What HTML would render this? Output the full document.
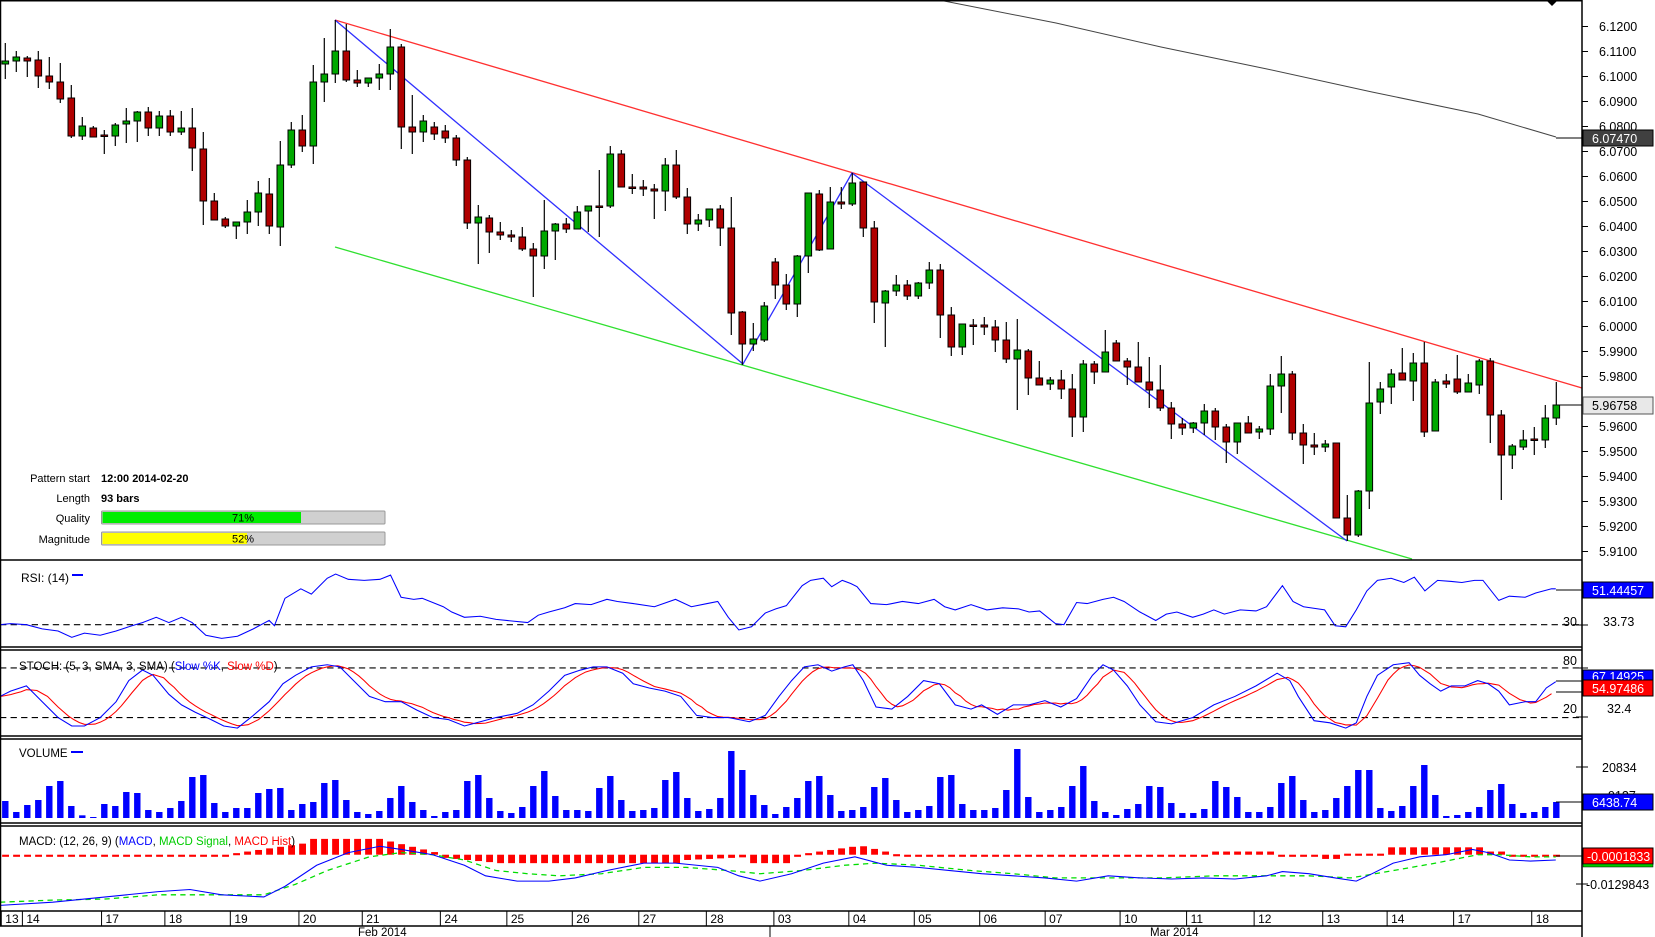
<!DOCTYPE html>
<html><head><meta charset="utf-8"><style>
html,body{margin:0;padding:0;background:#fff;width:1655px;height:937px;overflow:hidden}
svg{display:block;font-family:"Liberation Sans",Arial,sans-serif}
</style></head><body>
<svg id="s" width="1655" height="937" viewBox="0 0 1655 937" xmlns="http://www.w3.org/2000/svg">
<rect x="0" y="0" width="1655" height="937" fill="#fff"/>
<g id="main"></g>
<g id="scaled" transform="scale(1.05548,1.0552)"></g>
<!-- frame -->
<g stroke="#000" stroke-width="1.5" fill="none">
<line x1="0.5" y1="0" x2="0.5" y2="926"/>
<line x1="0" y1="0.75" x2="1582" y2="0.75"/>
<line x1="0" y1="560" x2="1582" y2="560"/>
<line x1="0" y1="647" x2="1582" y2="647"/>
<line x1="0" y1="650" x2="1582" y2="650"/>
<line x1="0" y1="736" x2="1582" y2="736"/>
<line x1="0" y1="739" x2="1582" y2="739"/>
<line x1="0" y1="823" x2="1582" y2="823"/>
<line x1="0" y1="826" x2="1582" y2="826"/>
<line x1="0" y1="911" x2="1582" y2="911"/>
<line x1="0" y1="926" x2="1582" y2="926"/>
<line x1="1582" y1="0" x2="1582" y2="937"/>
</g>
<polygon points="1546,0 1558,0 1552,6" fill="#000"/>
<g id="ticks" stroke="#000" stroke-width="1"></g>
<g font-size="12.5" fill="#000">
<text x="1599" y="31">6.1200</text><text x="1599" y="56">6.1100</text><text x="1599" y="81">6.1000</text>
<text x="1599" y="106">6.0900</text><text x="1599" y="131">6.0800</text><text x="1599" y="156">6.0700</text>
<text x="1599" y="181">6.0600</text><text x="1599" y="206">6.0500</text><text x="1599" y="231">6.0400</text>
<text x="1599" y="256">6.0300</text><text x="1599" y="281">6.0200</text><text x="1599" y="306">6.0100</text>
<text x="1599" y="331">6.0000</text><text x="1599" y="356">5.9900</text><text x="1599" y="381">5.9800</text>
<text x="1599" y="406">5.9700</text><text x="1599" y="431">5.9600</text><text x="1599" y="456">5.9500</text>
<text x="1599" y="481">5.9400</text><text x="1599" y="506">5.9300</text><text x="1599" y="531">5.9200</text>
<text x="1599" y="556">5.9100</text>
</g>
<line x1="1556" y1="138" x2="1582" y2="138" stroke="#000"/>
<rect x="1583" y="130" width="70" height="16" fill="#404040" stroke="#000"/>
<text x="1592" y="143" font-size="12.5" fill="#fff">6.07470</text>
<line x1="1556" y1="405" x2="1582" y2="405" stroke="#000"/>
<rect x="1583" y="397" width="70" height="17" fill="#e8e8e8" stroke="#555"/>
<text x="1592" y="410" font-size="12.5" fill="#000">5.96758</text>
<!-- pattern info -->
<g font-size="11" fill="#000">
<text x="90" y="482" text-anchor="end">Pattern start</text>
<text x="101" y="482" font-weight="bold">12:00 2014-02-20</text>
<text x="90" y="502" text-anchor="end">Length</text>
<text x="101" y="502" font-weight="bold">93 bars</text>
<text x="90" y="522" text-anchor="end">Quality</text>
<text x="90" y="543" text-anchor="end">Magnitude</text>
</g>
<rect x="101.5" y="511" width="283.5" height="13" fill="#d0d0d0" stroke="#999" rx="1"/>
<rect x="102.5" y="512" width="198.5" height="11" fill="#00ee00"/>
<text x="243" y="521.5" font-size="11" text-anchor="middle">71%</text>
<rect x="101.5" y="532" width="283.5" height="13" fill="#d0d0d0" stroke="#999" rx="1"/>
<rect x="102.5" y="533" width="144.5" height="11" fill="#ffff00"/>
<text x="243" y="542.5" font-size="11" text-anchor="middle">52%</text>
<!-- RSI labels -->
<text x="21" y="582" font-size="12">RSI: (14)</text>
<line x1="72" y1="575" x2="83" y2="575" stroke="#00f" stroke-width="2"/>
<text x="1563" y="626" font-size="12.5">30</text>
<text x="1603" y="626" font-size="12.5">33.73</text>
<line x1="1556" y1="590" x2="1582" y2="590" stroke="#000"/>
<rect x="1583" y="582" width="70" height="16" fill="#0000ff" stroke="#000"/>
<text x="1592" y="595" font-size="12.5" fill="#fff">51.44457</text>
<!-- stoch labels -->
<text x="19" y="670" font-size="11.5">STOCH: (5, 3, SMA, 3, SMA) (<tspan fill="#00f">Slow %K</tspan>, <tspan fill="#f00">Slow %D</tspan>)</text>
<text x="1563" y="665" font-size="12.5">80</text>
<text x="1563" y="713" font-size="12.5">20</text>
<text x="1607" y="713" font-size="12.5">32.4</text>
<line x1="1556" y1="681" x2="1582" y2="681" stroke="#000"/>
<line x1="1556" y1="692" x2="1582" y2="692" stroke="#000"/>
<rect x="1583" y="670" width="70" height="12" fill="#0000ff" stroke="#000"/>
<text x="1592" y="681" font-size="12.5" fill="#fff">67.14925</text>
<rect x="1583" y="680" width="70" height="16" fill="#ff0000" stroke="#000"/>
<text x="1592" y="693" font-size="12.5" fill="#fff">54.97486</text>
<!-- volume labels -->
<text x="19" y="757" font-size="11.5">VOLUME</text>
<line x1="71" y1="752" x2="83" y2="752" stroke="#00f" stroke-width="2"/>
<text x="1602" y="772" font-size="12.5">20834</text>
<text x="1608" y="800" font-size="12.5">9127</text>
<line x1="1556" y1="802" x2="1582" y2="802" stroke="#000"/>
<rect x="1583" y="794" width="70" height="16" fill="#0000ff" stroke="#000"/>
<text x="1592" y="807" font-size="12.5" fill="#fff">6438.74</text>
<!-- macd labels -->
<text x="19" y="845" font-size="11.5">MACD: (12, 26, 9) (<tspan fill="#00f">MACD</tspan>, <tspan fill="#0c0">MACD Signal</tspan>, <tspan fill="#f00">MACD Hist</tspan>)</text>
<line x1="1556" y1="856" x2="1582" y2="856" stroke="#000"/>
<rect x="1583" y="848" width="70" height="16" fill="#ff0000" stroke="#000"/>
<rect x="1583" y="864" width="70" height="3" fill="#00cc00" stroke="#000" stroke-width="0.5"/>
<text x="1587" y="861" font-size="12.5" fill="#fff">-0.0001833</text>
<line x1="1582" y1="884" x2="1588" y2="884" stroke="#000"/>
<text x="1586" y="889" font-size="12.5">-0.0129843</text>
<!-- dates -->
<g id="dates" font-size="12" fill="#000"></g>
<text x="358" y="936" font-size="11.5">Feb 2014</text>
<text x="1150" y="936" font-size="11.5">Mar 2014</text>
<line x1="770" y1="926" x2="770" y2="937" stroke="#000"/>
</svg>
<script>
var NS="http://www.w3.org/2000/svg";
function el(p,n,a){var e=document.createElementNS(NS,n);for(var k in a)e.setAttribute(k,a[k]);p.appendChild(e);return e;}
var main=document.getElementById('main'),sc=document.getElementById('scaled');
// price ticks
var tk=document.getElementById('ticks');
for(var i=0;i<22;i++){var y=26.5+25*i;el(tk,'line',{x1:1582,y1:y,x2:1588,y2:y});}
[[625],[668],[717],[767],[884]].forEach(function(a){el(tk,'line',{x1:1576,y1:a[0],x2:1588,y2:a[0]});});
// MA gray
el(main,'polyline',{points:"939,0 1056,23 1161,47 1267,69 1372,92 1478,114 1556,137",fill:"none",stroke:"#444","stroke-width":1});
// candles [top,bottom,wt,wb,green]
var C=[[61,64,43,79,1],[57,61,51,72,1],[58,61,56,77,0],[60,76,51,88,0],[76,82,57,89,0],[82,99,63,103,0],[98,136,85,138,0],[126,136,117,140,1],[128,137,126,137,0],[135,136,130,154,0],
[125,136,123,146,1],[121,124,108,143,1],[112,121,111,142,1],[112,128,107,136,0],[116,128,111,136,1],[116,132,110,136,0],[128,132,111,135,1],[128,148,108,171,0],[149,201,132,225,0],[201,220,193,220,0],
[219,226,217,228,0],[222,226,222,239,1],[212,222,200,234,1],[193,212,181,226,1],[194,226,178,234,0],[165,227,141,246,1],[130,165,122,168,1],[130,146,115,152,0],[82,146,65,164,1],[74,82,38,102,1],
[51,74,20,83,1],[51,80,24,82,0],[80,83,70,87,0],[78,83,78,87,1],[74,78,64,90,1],[47,74,29,90,1],[47,127,44,149,0],[127,132,95,154,0],[121,132,115,142,1],[127,134,122,140,0],
[131,138,125,143,0],[138,160,135,166,0],[160,223,157,229,0],[217,223,205,264,1],[218,232,215,253,0],[232,235,222,240,0],[235,237,230,242,0],[237,249,227,251,0],[249,256,243,297,0],[231,256,200,269,1],
[224,231,223,260,1],[224,229,218,233,0],[212,229,206,229,1],[206,211,206,232,1],[206,207,170,237,0],[154,206,146,208,1],[154,187,150,187,0],[187,188,174,194,0],[187,189,180,196,0],[189,191,184,219,0],
[165,191,158,211,1],[165,197,150,199,0],[197,224,188,234,0],[220,224,214,231,1],[209,220,209,227,1],[209,228,205,246,0],[228,313,197,335,0],[312,344,311,365,0],[339,344,323,351,1],[306,340,302,342,1],
[262,285,258,299,0],[285,304,274,310,0],[256,304,255,317,1],[193,256,193,273,1],[194,250,190,251,0],[202,249,187,249,1],[202,204,187,209,0],[183,204,173,206,1],[182,228,182,237,0],[228,302,221,323,0],
[291,303,290,347,1],[285,291,275,296,1],[285,296,280,300,0],[283,296,282,299,1],[270,283,262,289,1],[270,315,264,338,0],[315,347,307,356,0],[324,347,324,355,1],[325,326,319,345,0],[325,327,317,335,0],
[327,340,320,352,0],[340,359,322,363,0],[350,359,319,410,1],[351,378,349,395,0],[378,385,361,385,0],[380,384,377,390,1],[380,389,370,399,0],[389,417,374,437,0],[364,417,360,432,1],[364,372,361,384,0],
[352,372,330,372,1],[343,361,340,361,0],[361,367,358,385,0],[367,382,342,382,0],[382,390,357,408,0],[390,408,365,411,0],[408,424,402,439,0],[424,428,418,435,0],[423,428,422,433,1],[411,423,404,435,1],
[411,427,408,440,0],[427,442,424,463,0],[423,442,423,454,1],[423,433,416,433,0],[429,432,426,439,1],[386,429,374,435,1],[374,386,356,413,1],[374,433,371,440,0],[433,445,424,464,0],[445,447,433,455,0],
[444,447,440,452,1],[443,518,443,518,0],[518,535,495,541,0],[491,535,490,537,1],[403,491,362,509,1],[389,402,382,414,1],[374,387,369,404,1],[373,380,348,380,0],[363,381,353,401,1],[363,432,342,437,0],
[382,431,379,431,1],[381,384,374,388,0],[379,392,355,394,0],[383,392,374,392,1],[361,385,359,394,1],[361,415,358,443,0],[415,455,410,500,0],[446,455,444,469,1],[440,447,430,450,1],[439,440,427,455,0],
[418,440,405,448,1],[405,418,382,425,1]];
function cx(i){return 5.3+11*i;}
// channel lines
el(main,'line',{x1:335,y1:20,x2:1582,y2:388,stroke:"#ff3030","stroke-width":1.3});
el(main,'line',{x1:335,y1:247,x2:1412,y2:559,stroke:"#30e030","stroke-width":1.3});
el(main,'polyline',{points:"335,20 743,364 852,173 1347,541",fill:"none",stroke:"#3030ff","stroke-width":1.3});
C.forEach(function(c,i){var x=cx(i);
 el(main,'line',{x1:x,y1:c[2],x2:x,y2:c[3],stroke:"#000","stroke-width":1.2});
 var h=Math.max(c[1]-c[0],1.5);
 el(main,'rect',{x:x-3.3,y:c[0],width:6.6,height:h,fill:c[4]?"#00a800":"#b00000",stroke:"#000","stroke-width":1});
});
// volume
var V1=[183,216,195,180,138,123,198,226,231,192,198,156,159,210,216,204,183,111,105,189,216,204,204,159,147,144,210,192,186,129,120,180,216,222,213,174,138,186,210,228,216,210,123,105,174,213,219,201,138,93,168,210,210,213,144,108,180,213,210,204,120,96,174,213,207,174,33,90,165,195,222,201];
var V2=[174,123,108,165,213,210,201,141,114,180,216,210,198,111,105,192,210,210,204,150,27,171,216,210,201,138,78,183,216,225,207,192,138,141,189,219,219,207,123,141,171,216,216,201,129,108,180,216,210,174,138,90,90,204,213,198,138,75,165,228,225,216,201,150,132,192,219,216,201,186];
var V=V1.concat(V2);
V.forEach(function(t,i){var h=(234-t)/3;el(main,'rect',{x:cx(i)-3.2,y:818-h,width:6.4,height:h,fill:"#0000ff"});});
// dashed levels (displayed coords)
function P(a){return a.map(function(p){return p[0]+","+p[1];}).join(" ");}
[[592],[633],[680]].forEach(function(a){el(sc,'line',{x1:0,y1:a[0],x2:1499,y2:a[0],stroke:"#000","stroke-dasharray":"6,4","stroke-width":1});});
var rsi=[[0,592],[10,591],[25,592],[40,596],[55,598],[68,604],[80,600],[95,602],[110,598],[125,593],[135,590],[148,585],[160,590],[172,585],[182,590],[195,602],[210,605],[225,603],[240,596],[255,588],[260,593],[270,567],[285,558],[295,563],[310,548],[318,544],[330,549],[345,550],[360,549],[370,545],[380,566],[392,568],[400,567],[420,575],[428,580],[440,585],[455,584],[470,587],[500,590],[510,583],[520,580],[535,576],[545,572],[560,573],[575,568],[585,570],[600,572],[620,575],[640,568],[655,575],[670,572],[680,570],[690,585],[700,597],[712,594],[725,581],[735,577],[745,574],[760,555],[768,550],[780,548],[788,556],[798,550],[806,553],[812,556],[825,572],[840,573],[855,570],[870,572],[885,568],[895,575],[905,578],[920,573],[935,578],[950,576],[965,577],[975,580],[985,579],[1000,591],[1008,592],[1020,571],[1030,572],[1045,568],[1055,566],[1065,570],[1080,580],[1095,588],[1105,582],[1115,580],[1130,585],[1140,582],[1150,578],[1160,582],[1175,578],[1190,579],[1200,575],[1215,555],[1225,570],[1235,575],[1255,578],[1265,593],[1275,594],[1285,578],[1295,560],[1305,550],[1318,548],[1330,552],[1340,547],[1350,560],[1362,550],[1375,551],[1385,552],[1397,550],[1405,550],[1420,569],[1430,565],[1445,566],[1455,562],[1470,558],[1474,558]];
el(sc,'polyline',{points:P(rsi),fill:"none",stroke:"#0000ff","stroke-width":1});
var sk=[[0,660],[10,655],[25,650],[40,665],[55,680],[68,688],[80,688],[95,680],[110,665],[122,645],[135,635],[145,640],[160,658],[172,668],[185,675],[200,682],[212,688],[225,690],[240,678],[255,665],[268,648],[280,640],[295,632],[310,630],[322,632],[335,645],[350,660],[365,665],[380,665],[395,673],[410,680],[425,682],[440,688],[455,684],[470,680],[490,676],[505,668],[520,655],[535,640],[550,635],[562,632],[575,632],[590,638],[600,648],[615,652],[630,655],[645,660],[660,678],[675,680],[690,680],[710,684],[725,678],[738,660],[750,645],[762,632],[775,630],[788,636],[800,632],[808,630],[818,645],[830,670],[845,672],[860,660],[875,645],[890,648],[905,668],[920,672],[930,668],[945,677],[960,668],[975,668],[990,664],[1005,670],[1020,662],[1035,640],[1045,630],[1055,635],[1068,650],[1080,668],[1095,684],[1110,686],[1130,680],[1150,668],[1170,660],[1190,650],[1210,638],[1222,645],[1230,660],[1245,683],[1260,685],[1275,690],[1285,685],[1295,660],[1305,640],[1320,630],[1335,628],[1345,640],[1355,648],[1365,655],[1375,650],[1388,650],[1400,645],[1410,648],[1420,655],[1430,668],[1445,665],[1455,665],[1465,652],[1474,646]];
function interp(a,x){if(x<=a[0][0])return a[0][1];for(var i=1;i<a.length;i++){if(x<=a[i][0]){var t=(x-a[i-1][0])/(a[i][0]-a[i-1][0]);return a[i-1][1]+t*(a[i][1]-a[i-1][1]);}}return a[a.length-1][1];}
var sd=[];for(var x=0;x<=1474;x+=5){sd.push([x,((interp(sk,x)+interp(sk,x-10)+interp(sk,x-20))/3).toFixed(1)]);}
el(sc,'polyline',{points:P(sd),fill:"none",stroke:"#ff0000","stroke-width":1});
el(sc,'polyline',{points:P(sk),fill:"none",stroke:"#0000ff","stroke-width":1});
// MACD hist
var Z=810;
function hist(i){ if(i<20)return -1; if(i<28)return (i-20)*1.5; if(i<34)return 15; if(i<40)return 15-(i-34)*2.5; if(i<45)return -3-(i-40); if(i<62)return -8; if(i<68)return -5+(i-62)*0.5; if(i<72)return -8; if(i<78)return (i-72)*1.5; if(i<82)return 8-(i-78)*2.5; if(i<110)return -2; if(i<116)return 3; if(i<120)return -1; if(i<122)return -4; if(i<126)return 1;if(i<135)return 7;if(i<137)return 3; return -2;}
for(var i=0;i<142;i++){var h=hist(i),x=(5.3+11*i)/1.05548;var y=h>=0?Z-h:Z;el(sc,'rect',{x:x-3,y:y,width:6.5,height:Math.max(Math.abs(h),2),fill:"#ff0000"});}
var mb=[[0,858],[50,855],[100,850],[150,845],[180,843],[210,848],[250,850],[270,840],[300,820],[330,808],[360,802],[380,805],[410,810],[440,820],[460,830],[490,835],[520,835],[545,832],[575,825],[610,818],[640,818],[680,822],[700,830],[720,835],[750,828],[780,818],[810,812],[840,820],[870,822],[900,825],[930,828],[960,830],[990,832],[1020,835],[1050,830],[1080,832],[1110,833],[1140,832],[1170,833],[1200,830],[1215,826],[1240,828],[1265,832],[1285,835],[1300,828],[1320,818],[1345,812],[1370,810],[1395,805],[1410,808],[1430,815],[1450,816],[1474,815]];
var mg=[[0,855],[50,853],[100,852],[150,848],[200,848],[250,848],[280,838],[310,825],[350,812],[380,808],[410,810],[440,815],[470,825],[500,828],[530,830],[570,828],[610,822],[650,822],[690,825],[720,828],[760,825],[800,820],[830,818],[870,820],[920,825],[960,828],[1000,832],[1040,832],[1100,832],[1150,830],[1200,830],[1240,830],[1280,832],[1320,825],[1360,818],[1400,810],[1420,810],[1450,812],[1474,812]];
el(sc,'polyline',{points:P(mg),fill:"none",stroke:"#00dd00","stroke-width":1.2,"stroke-dasharray":"5,4"});
el(sc,'polyline',{points:P(mb),fill:"none",stroke:"#0000ff","stroke-width":1});
// date labels (displayed coords -> orig)
var D=[["13",5],["14",25],["17",100],["18",160],["19",222],["20",287],["21",347],["24",421],["25",484],["26",546],["27",609],["28",673],["03",737],["04",808],["05",870],["06",932],["07",994],["10",1065],["11",1128],["12",1192],["13",1257],["14",1318],["17",1381],["18",1455]];
var dg=document.getElementById('dates');
D.forEach(function(d){var x=d[1]*1.05548;var t=el(dg,'text',{x:x,y:923});t.textContent=d[0];el(main,'line',{x1:x-4,y1:911,x2:x-4,y2:926,stroke:"#000","stroke-width":1});});
</script>
</body></html>
